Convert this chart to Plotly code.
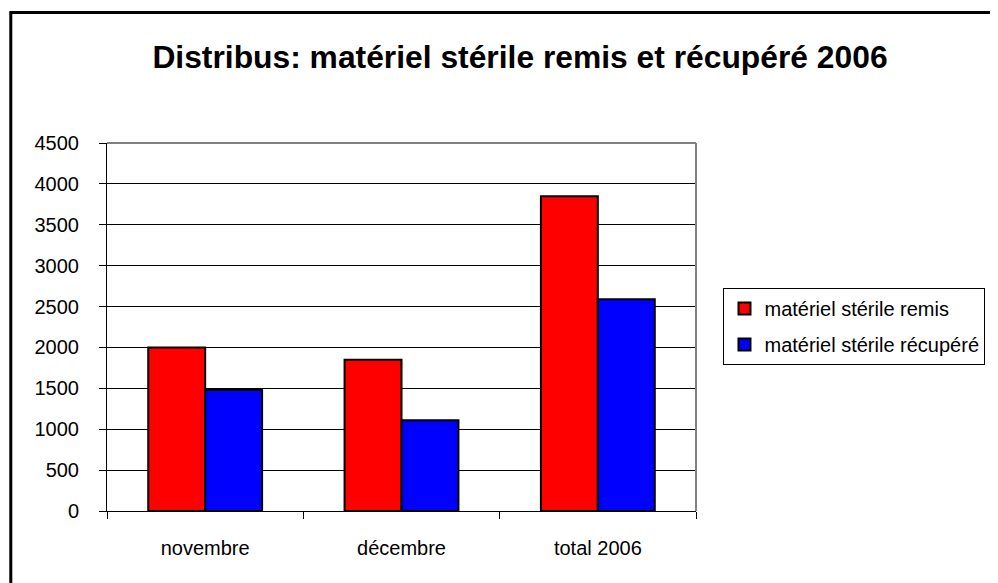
import plotly.graph_objects as go

categories = ["novembre", "décembre", "total 2006"]
remis = [2000, 1850, 3850]
recupere = [1480, 1110, 2590]
series_names = ["matériel stérile remis", "matériel stérile récupéré"]
y_ticks = [0, 500, 1000, 1500, 2000, 2500, 3000, 3500, 4000, 4500]
title_text = "Distribus: matériel stérile remis et récupéré 2006"

FONT = "Liberation Sans, Arial, sans-serif"

fig = go.Figure()
fig.add_trace(go.Bar(
    x=categories, y=remis, name=series_names[0], legendgroup="a",
    marker=dict(color="#FF0000", line=dict(color="#000000", width=2)),
))
fig.add_trace(go.Bar(
    x=categories, y=recupere, name=series_names[1], legendgroup="b",
    marker=dict(color="#0000FF", line=dict(color="#000000", width=2)),
))

# page body offset (default 8px margin) compensated
OFF = 8
W, H = 998 - OFF, 583 - OFF
L, R, T, B = 107 - OFF, 707 - OFF, 143 - OFF, 511 - OFF
pw, ph = R - L, B - T

def px_x(x):
    return (x - OFF - L) / pw

def px_y(y):
    return (B - (y - OFF)) / ph

fig.update_layout(
    width=W, height=H,
    margin=dict(l=L, r=W - R, t=T, b=H - B, pad=0),
    paper_bgcolor="white", plot_bgcolor="white",
    font=dict(family=FONT, size=20, color="#000000"),
    barmode="group", bargap=0.42, bargroupgap=0,
    title=dict(text="<b>" + title_text + "</b>", x=(520 - OFF) / W, xanchor="center",
               y=1 - (57 - OFF) / H, yanchor="middle", font=dict(size=31.8, family=FONT)),
    legend=dict(x=px_x(735), xanchor="left", y=px_y(288), yanchor="top",
                bordercolor="#000000", borderwidth=1, bgcolor="white",
                font=dict(size=20, family=FONT), traceorder="grouped",
                tracegroupgap=7),
    xaxis=dict(type="category", showline=True, linecolor="#000000", linewidth=1,
               ticks="outside", ticklen=7, tickcolor="#000000", tickson="boundaries",
               showgrid=False, ticklabelstandoff=19),
    yaxis=dict(range=[0, 4500], tickvals=y_ticks, showline=True, linecolor="#000000",
               linewidth=1, ticks="outside", ticklen=7, tickcolor="#000000",
               showgrid=True, gridcolor="#000000", gridwidth=1, zeroline=False,
               ticklabelstandoff=16),
    shapes=[
        dict(type="line", xref="paper", yref="paper", x0=0, x1=1, y0=1, y1=1,
             line=dict(color="#808080", width=2), layer="above"),
        dict(type="line", xref="paper", yref="paper", x0=1, x1=1, y0=0, y1=1,
             line=dict(color="#808080", width=2), layer="above"),
        dict(type="rect", xref="paper", yref="paper",
             x0=px_x(9), x1=px_x(1020), y0=px_y(610), y1=px_y(12.5),
             line=dict(color="#000000", width=3), fillcolor="rgba(0,0,0,0)", layer="above"),
    ],
)

fig.write_html("out.html")
